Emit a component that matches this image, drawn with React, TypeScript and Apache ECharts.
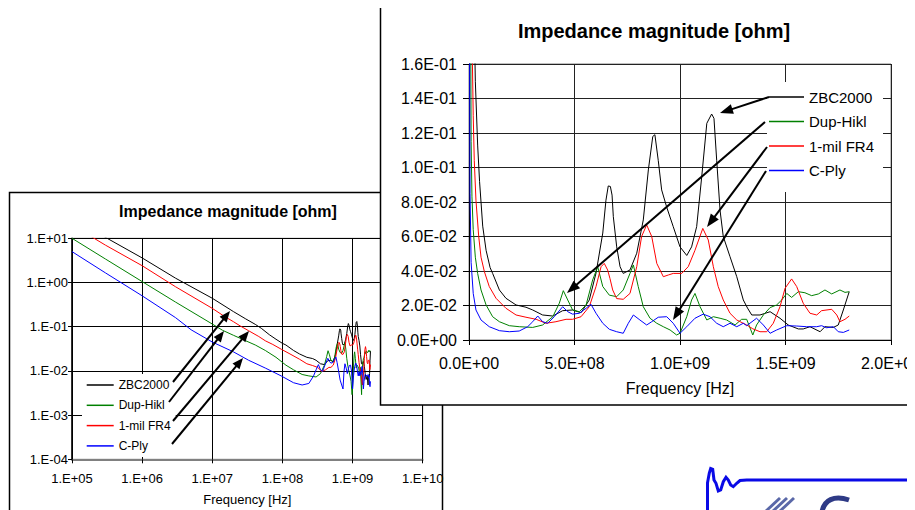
import React, { useEffect, useRef } from 'react';
import * as echarts from 'echarts';

// ---------- data ----------
const seriesNames = ['ZBC2000', 'Dup-Hikl', '1-mil FR4', 'C-Ply'];
const seriesColors = ['#000000', '#008000', '#ff0000', '#0000ff'];

// [frequency in MHz, impedance magnitude in ohm]
const zbc2000: number[][] = [
  [0.1, 30], [0.3, 10.5], [1, 3.6], [3, 1.25], [10, 0.44], [20, 0.22], [30, 0.15], [41, 0.113],
  [50, 0.092], [65, 0.066], [81, 0.052], [100, 0.042], [112, 0.0386], [144, 0.029], [175, 0.0242],
  [223, 0.0203], [270, 0.019], [302, 0.0174], [349, 0.0145], [397, 0.0139], [444, 0.017], [491, 0.0174],
  [531, 0.0158], [570, 0.0232], [602, 0.0388], [634, 0.062], [649, 0.081], [660, 0.0893], [670, 0.089],
  [678, 0.084], [684, 0.0715], [700, 0.054], [716, 0.0425], [731, 0.0386], [763, 0.0406], [795, 0.0503],
  [826, 0.0696], [850, 0.0986], [871, 0.118], [881, 0.119], [897, 0.104], [913, 0.087], [937, 0.077],
  [968, 0.0657], [1000, 0.054], [1032, 0.049], [1055, 0.054], [1079, 0.0657], [1103, 0.0947],
  [1127, 0.1256], [1150, 0.131], [1161, 0.1285], [1174, 0.104], [1190, 0.075], [1205, 0.06],
  [1237, 0.0483], [1269, 0.0367], [1300, 0.0232], [1320, 0.0185], [1340, 0.0145], [1379, 0.0145],
  [1427, 0.0164], [1474, 0.0126], [1513, 0.0087], [1561, 0.0064], [1584, 0.0064], [1616, 0.0077],
  [1664, 0.0048], [1687, 0.0077], [1727, 0.0073], [1750, 0.0087], [1774, 0.0174], [1802, 0.028],
];

const dupHikl: number[][] = [
  [0.1, 10], [0.3, 3.4], [1, 1.05], [3, 0.36], [10, 0.115], [14, 0.083], [20, 0.064], [30, 0.048],
  [41, 0.0386], [57, 0.029], [81, 0.0203], [112, 0.0135], [144, 0.0106], [191, 0.0083], [238, 0.0077],
  [302, 0.0073], [349, 0.0087], [397, 0.0135], [428, 0.0213], [447, 0.0286], [468, 0.0232], [491, 0.0174],
  [523, 0.0164], [555, 0.0203], [586, 0.0348], [610, 0.0425], [634, 0.031], [665, 0.026], [700, 0.0251],
  [731, 0.029], [763, 0.0386], [779, 0.0435], [802, 0.031], [826, 0.0193], [858, 0.0126], [890, 0.0097],
  [921, 0.0077], [953, 0.0058], [984, 0.0029], [1000, 0.0039], [1032, 0.0135], [1055, 0.0232],
  [1071, 0.027], [1095, 0.0193], [1127, 0.0116], [1158, 0.0135], [1190, 0.0126], [1221, 0.0116],
  [1261, 0.0087], [1292, 0.012], [1316, 0.012], [1345, 0.0029], [1363, 0.0087], [1395, 0.0145],
  [1427, 0.0188], [1458, 0.0203], [1482, 0.0232], [1506, 0.027], [1529, 0.0247], [1561, 0.028],
  [1592, 0.0274], [1624, 0.0257], [1656, 0.0267], [1687, 0.029], [1719, 0.0267], [1758, 0.029],
  [1782, 0.0276], [1802, 0.028],
];

const milFr4: number[][] = [
  [0.1, 20], [0.3, 7], [1, 2.4], [3, 0.8], [10, 0.26], [15, 0.17], [20, 0.13], [25, 0.104], [33, 0.081],
  [46, 0.06], [57, 0.048], [73, 0.0396], [96, 0.031], [128, 0.0242], [175, 0.0184], [223, 0.0145],
  [270, 0.0132], [318, 0.012], [365, 0.0097], [412, 0.0106], [460, 0.012], [491, 0.012], [531, 0.0135],
  [570, 0.0193], [602, 0.031], [626, 0.0425], [641, 0.0444], [657, 0.0406], [668, 0.0357], [681, 0.029],
  [700, 0.024], [731, 0.0236], [763, 0.027], [795, 0.0425], [818, 0.06], [842, 0.0667], [866, 0.06],
  [890, 0.0444], [921, 0.0367], [945, 0.0377], [968, 0.0386], [1008, 0.0386], [1039, 0.0425],
  [1071, 0.052], [1108, 0.0647], [1134, 0.058], [1158, 0.0425], [1181, 0.031], [1205, 0.0232],
  [1237, 0.0155], [1269, 0.0116], [1316, 0.0087], [1345, 0.0065], [1379, 0.0048], [1411, 0.0048],
  [1442, 0.0097], [1474, 0.0193], [1498, 0.03], [1529, 0.0354], [1553, 0.031], [1584, 0.0213],
  [1616, 0.0155], [1648, 0.0145], [1671, 0.017], [1719, 0.0178], [1743, 0.0145], [1758, 0.0106],
  [1782, 0.012], [1802, 0.0139],
];

const cPly: number[][] = [
  [0.1, 5], [0.3, 1.65], [1, 0.5], [3, 0.16], [5, 0.085], [10, 0.045], [20, 0.027], [33, 0.0174],
  [57, 0.0116], [96, 0.0077], [144, 0.0054], [191, 0.0048], [238, 0.0052], [278, 0.0077], [302, 0.0106],
  [326, 0.0139], [349, 0.0106], [373, 0.0097], [404, 0.0135], [444, 0.0193], [468, 0.0164], [491, 0.015],
  [523, 0.0155], [555, 0.0184], [578, 0.0207], [602, 0.0155], [634, 0.0097], [665, 0.0062], [700, 0.0048],
  [731, 0.0039], [755, 0.0097], [779, 0.0145], [810, 0.0116], [842, 0.0087], [866, 0.0106], [897, 0.0132],
  [937, 0.0135], [968, 0.0097], [1000, 0.0039], [1032, 0.0077], [1071, 0.0126], [1110, 0.015],
  [1142, 0.0135], [1174, 0.0097], [1205, 0.0077], [1237, 0.0097], [1269, 0.0077], [1300, 0.0097],
  [1316, 0.0083], [1363, 0.0126], [1395, 0.0087], [1427, 0.0039], [1458, 0.0058], [1506, 0.0083],
  [1553, 0.0081], [1600, 0.0077], [1648, 0.0077], [1671, 0.0083], [1695, 0.0071], [1727, 0.0077],
  [1750, 0.0048], [1774, 0.0044], [1802, 0.0058],
];

const datasets = [zbc2000, dupHikl, milFr4, cPly];

const titleText = 'Impedance magnitude [ohm]';
const xAxisName = 'Frequency [Hz]';

// axis ranges
const backX = { min: 1e5, max: 1e10 };
const backY = { min: 1e-4, max: 1e1 };
const frontX = { min: 0, max: 2e9, interval: 5e8 };
const frontY = { min: 0, max: 0.16, interval: 0.02 };

// ---------- layout ----------
const FONT = 'Liberation Sans, Arial, Helvetica, sans-serif';
const BACK_GRID = { left: 72, top: 238.3, width: 350.7, height: 221 };
const FRONT_GRID = { left: 469, top: 64, width: 422, height: 276 };

const backArrows = [
  [173, 382, 230, 311],
  [169, 402, 224, 331],
  [173, 421, 249, 331],
  [172, 444, 243, 358],
];
const frontArrows = [
  [769, 97, 720, 113],
  [765, 122, 567, 293],
  [767, 147, 707, 227],
  [766, 171, 673, 320],
];

const logoWave = [
  [707.5, 512], [707.5, 483], [709.3, 473], [710.7, 468.5], [712.7, 469.3], [714, 480], [716, 483.3],
  [718.3, 491], [720.7, 490], [723.3, 481.7], [726, 477.3], [728.3, 480], [730.7, 485], [733.3, 486.7],
  [736.7, 483.3], [740, 480.5], [746.7, 480], [910, 480],
];

function sciLabel(v: number, decimals: number): string {
  if (v === 0) return (decimals > 0 ? '0.' + '0'.repeat(decimals) : '0.') + 'E+00';
  const fmt = (m: number) => (decimals > 0 ? m.toFixed(decimals) : String(Math.round(m)) + '.');
  let e = Math.floor(Math.log10(Math.abs(v)) + 1e-9);
  let ms = fmt(v / Math.pow(10, e));
  if (parseFloat(ms) >= 10) {
    e += 1;
    ms = fmt(v / Math.pow(10, e));
  }
  return ms + 'E' + (e < 0 ? '-' : '+') + String(Math.abs(e)).padStart(2, '0');
}

function arrow(x1: number, y1: number, x2: number, y2: number, lw: number, headLen: number, headHalf: number, z: number) {
  const dx = x2 - x1;
  const dy = y2 - y1;
  const L = Math.hypot(dx, dy);
  const ux = dx / L;
  const uy = dy / L;
  const bx = x2 - ux * headLen;
  const by = y2 - uy * headLen;
  const px = -uy;
  const py = ux;
  return [
    {
      type: 'line', z, silent: true,
      shape: { x1, y1, x2: bx + ux * 2, y2: by + uy * 2 },
      style: { stroke: '#000', lineWidth: lw },
    },
    {
      type: 'polygon', z, silent: true,
      shape: { points: [[x2, y2], [bx + px * headHalf, by + py * headHalf], [bx - px * headHalf, by - py * headHalf]] },
      style: { fill: '#000' },
    },
  ];
}

function buildOption(): any {
  const series: any[] = [];
  datasets.forEach((d, i) => {
    const data = d.map(([f, v]) => [f * 1e6, v]);
    const common = {
      name: seriesNames[i], type: 'line', data, showSymbol: false, symbol: 'none', clip: true, silent: true,
      lineStyle: { color: seriesColors[i], width: 1 }, itemStyle: { color: seriesColors[i] },
    };
    series.push({ ...common, xAxisIndex: 0, yAxisIndex: 0, z: 6 });
    series.push({ ...common, xAxisIndex: 1, yAxisIndex: 1, z: 31 });
  });

  const graphics: any[] = [
    // back chart frame
    { type: 'rect', z: 1, silent: true, shape: { x: 9.5, y: 192.5, width: 433, height: 340 }, style: { fill: '#fff', stroke: '#000', lineWidth: 1.5 } },
    // front chart frame
    { type: 'rect', z: 20, silent: true, shape: { x: 380.5, y: 6.5, width: 560, height: 398.5 }, style: { fill: '#fff', stroke: '#000', lineWidth: 1.5 } },
    {
      type: 'text', z: 8, silent: true, x: 228, y: 211,
      style: { text: titleText, fill: '#000', fontSize: 16, fontWeight: 'bold', fontFamily: FONT, textAlign: 'center', textVerticalAlign: 'middle', align: 'center', verticalAlign: 'middle' },
    },
    {
      type: 'text', z: 33, silent: true, x: 654, y: 31,
      style: { text: titleText, fill: '#000', fontSize: 20, fontWeight: 'bold', fontFamily: FONT, textAlign: 'center', textVerticalAlign: 'middle', align: 'center', verticalAlign: 'middle' },
    },
    // logo fragment
    { type: 'polyline', z: 1, silent: true, shape: { points: logoWave }, style: { stroke: '#0a0ae6', lineWidth: 3, fill: null } },
    { type: 'line', z: 1, silent: true, shape: { x1: 766, y1: 511, x2: 780, y2: 498 }, style: { stroke: '#5a68a8', lineWidth: 3 } },
    { type: 'line', z: 1, silent: true, shape: { x1: 773, y1: 511, x2: 787, y2: 498 }, style: { stroke: '#5a68a8', lineWidth: 3 } },
    { type: 'line', z: 1, silent: true, shape: { x1: 780, y1: 511, x2: 794, y2: 498 }, style: { stroke: '#5a68a8', lineWidth: 3 } },
    { type: 'bezierCurve', z: 1, silent: true, shape: { x1: 822, y1: 512, cpx1: 824, cpy1: 500, cpx2: 834, cpy2: 495, x2: 849, y2: 500 }, style: { stroke: '#2e3a86', lineWidth: 5, fill: null } },
  ];
  backArrows.forEach(([a, b, c, d]) => graphics.push(...arrow(a, b, c, d, 2, 11, 4.5, 8)));
  frontArrows.forEach(([a, b, c, d]) => graphics.push(...arrow(a, b, c, d, 2, 13, 5, 33)));

  const labelStyle = { color: '#000', fontFamily: FONT };

  return {
    animation: false,
    backgroundColor: 'transparent',
    grid: [
      { ...BACK_GRID, show: true, borderColor: '#808080', borderWidth: 1, backgroundColor: 'transparent', z: 5 },
      { ...FRONT_GRID, show: true, borderColor: '#808080', borderWidth: 1, backgroundColor: 'transparent', z: 29 },
    ],
    xAxis: [
      {
        gridIndex: 0, type: 'log', logBase: 10, min: backX.min, max: backX.max, splitNumber: 5, z: 5,
        axisLine: { show: true, lineStyle: { color: '#808080', width: 2 } },
        axisTick: { show: true, length: 4, lineStyle: { color: '#000' } },
        axisLabel: { ...labelStyle, fontSize: 13, margin: 13, formatter: (v: number) => sciLabel(v, 0) },
        splitLine: { show: true, lineStyle: { color: '#000', width: 1 } },
        minorTick: { show: false }, minorSplitLine: { show: false },
        name: xAxisName, nameLocation: 'middle', nameGap: 34,
        nameTextStyle: { ...labelStyle, fontSize: 13 },
      },
      {
        gridIndex: 1, type: 'value', min: frontX.min, max: frontX.max, interval: frontX.interval, z: 30,
        axisLine: { show: true, onZero: false, lineStyle: { color: '#000', width: 1 } },
        axisTick: { show: true, length: 5, lineStyle: { color: '#000' } },
        axisLabel: { ...labelStyle, fontSize: 16, margin: 15, formatter: (v: number) => sciLabel(v, 1) },
        splitLine: { show: true, lineStyle: { color: '#222', width: 1 } },
        name: xAxisName, nameLocation: 'middle', nameGap: 40,
        nameTextStyle: { ...labelStyle, fontSize: 16 },
      },
    ],
    yAxis: [
      {
        gridIndex: 0, type: 'log', logBase: 10, min: backY.min, max: backY.max, splitNumber: 5, z: 5,
        axisLine: { show: true, lineStyle: { color: '#000', width: 1.5 } },
        axisTick: { show: true, length: 4, lineStyle: { color: '#000' } },
        axisLabel: { ...labelStyle, fontSize: 13, margin: 4, formatter: (v: number) => sciLabel(v, 0) },
        splitLine: { show: true, lineStyle: { color: '#000', width: 1 } },
        minorTick: { show: false }, minorSplitLine: { show: false },
      },
      {
        gridIndex: 1, type: 'value', min: frontY.min, max: frontY.max, interval: frontY.interval, z: 30,
        axisLine: { show: true, onZero: false, lineStyle: { color: '#000', width: 1 } },
        axisTick: { show: true, length: 6, lineStyle: { color: '#000' } },
        axisLabel: { ...labelStyle, fontSize: 16, margin: 12, formatter: (v: number) => sciLabel(v, 1) },
        splitLine: { show: true, lineStyle: { color: '#222', width: 1 } },
      },
    ],
    legend: [
      {
        data: seriesNames, orient: 'vertical', left: 82, top: 374, padding: [5, 5, 5, 4.7], itemGap: 8.3,
        itemWidth: 27, itemHeight: 1.5, icon: 'rect', backgroundColor: '#fff', selectedMode: false, z: 7,
        textStyle: { ...labelStyle, fontSize: 12, lineHeight: 12 },
      },
      {
        data: seriesNames, orient: 'vertical', left: 767, top: 82, padding: [7.5, 9, 14, 2], itemGap: 9.5,
        itemWidth: 35, itemHeight: 1.5, icon: 'rect', backgroundColor: '#fff', selectedMode: false, z: 32,
        textStyle: { ...labelStyle, fontSize: 15, lineHeight: 15 },
      },
    ],
    tooltip: { show: false },
    graphic: graphics,
    series,
  };
}

const CANVAS_W = 935;
const CANVAS_H = 530;

export default function App() {
  const ref = useRef<HTMLDivElement>(null);
  useEffect(() => {
    if (!ref.current) return;
    const chart = echarts.init(ref.current, null, { renderer: 'svg', width: CANVAS_W, height: CANVAS_H });
    chart.setOption(buildOption());
    return () => chart.dispose();
  }, []);
  return (
    <div
      ref={ref}
      style={{ position: 'fixed', left: -8, top: -8, width: CANVAS_W, height: CANVAS_H, background: '#fff', overflow: 'hidden' }}
    />
  );
}
